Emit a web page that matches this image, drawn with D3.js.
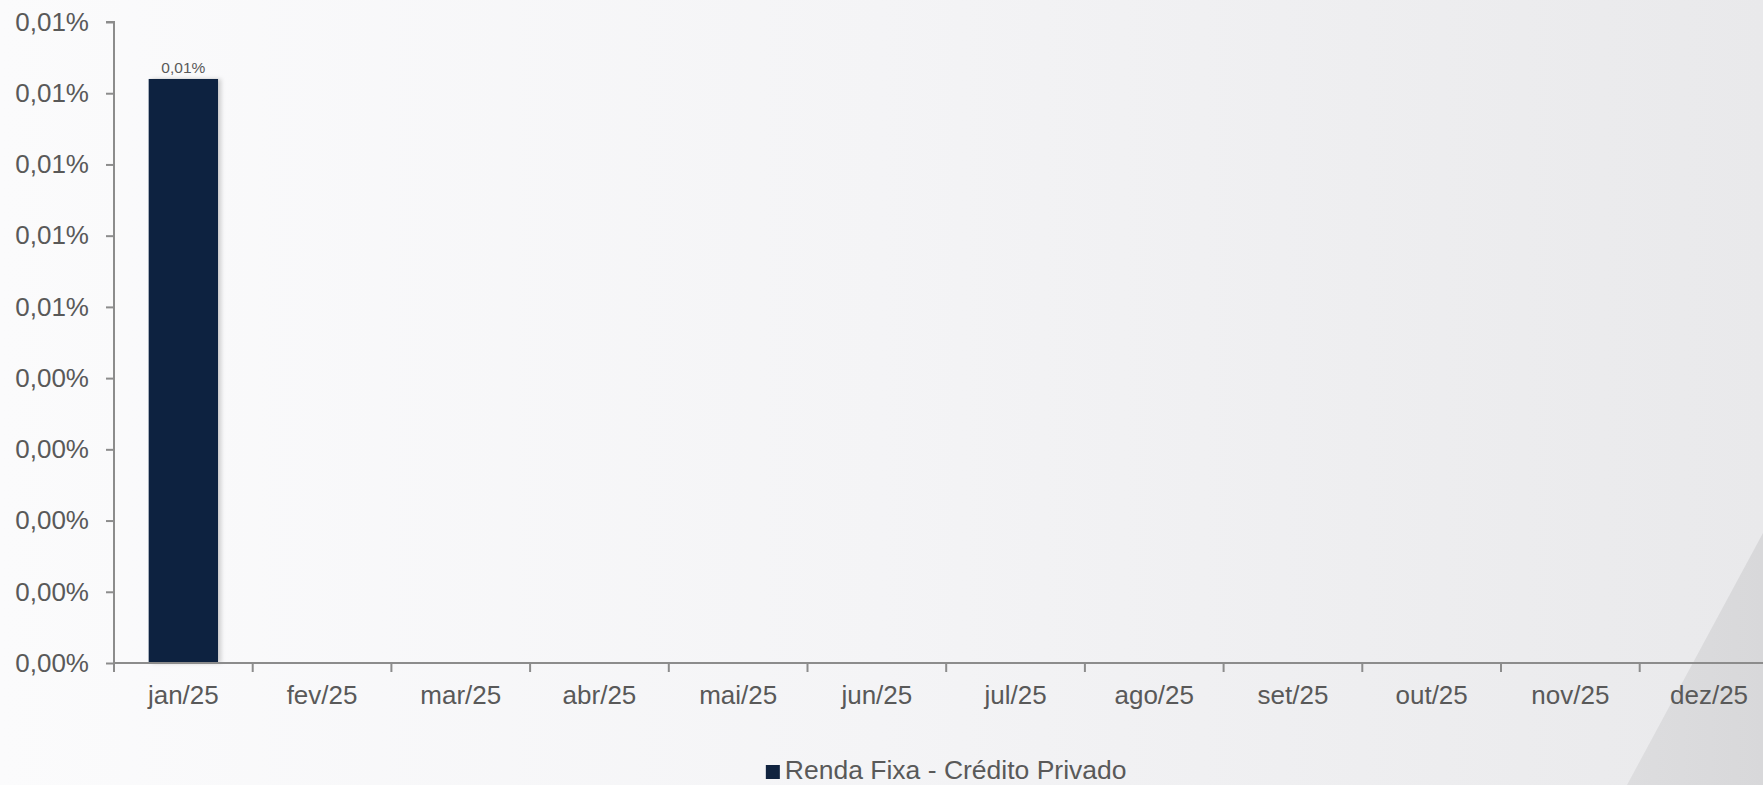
<!DOCTYPE html>
<html>
<head>
<meta charset="utf-8">
<script src="https://cdn.jsdelivr.net/npm/d3@7"></script>
<style>
  html, body { margin: 0; padding: 0; overflow: hidden; }
  svg { display: block; font-family: "Liberation Sans", Arial, sans-serif; }
</style>
</head>
<body>
<svg id="chart" width="1763" height="785"></svg>
<script>
// ---- data ----
const categories = ["jan/25","fev/25","mar/25","abr/25","mai/25","jun/25","jul/25","ago/25","set/25","out/25","nov/25","dez/25"];
const seriesName = "Renda Fixa - Crédito Privado";
const seriesValues = [0.0082, null, null, null, null, null, null, null, null, null, null, null]; // percent units
const barLabels = ["0,01%"];
const yTicks = [0, 0.001, 0.002, 0.003, 0.004, 0.005, 0.006, 0.007, 0.008, 0.009];
const yTickLabels = ["0,00%","0,00%","0,00%","0,00%","0,00%","0,01%","0,01%","0,01%","0,01%","0,01%"];

// ---- layout ----
const W = 1763, H = 785;
const plotLeft = 114, plotTop = 22, plotBottom = 663;
const step = 138.7;
const textColor = "#595959";
const axisColor = "#8c8c8c";
const barColor = "#10233f";

const svg = d3.select("#chart");
const defs = svg.append("defs");

const bg = defs.append("linearGradient").attr("id", "bg").attr("x1", 0).attr("x2", 1).attr("y1", 0).attr("y2", 0);
bg.append("stop").attr("offset", "0%").attr("stop-color", "#fbfbfc");
bg.append("stop").attr("offset", "50%").attr("stop-color", "#f4f4f6");
bg.append("stop").attr("offset", "100%").attr("stop-color", "#e9e9eb");

const dg = defs.append("linearGradient").attr("id", "diag").attr("x1", 0).attr("x2", 1).attr("y1", 0).attr("y2", 0);
dg.append("stop").attr("offset", "0%").attr("stop-color", "#dddddf");
dg.append("stop").attr("offset", "100%").attr("stop-color", "#d8d8da");

const sh = defs.append("filter").attr("id", "shadow").attr("x", "-20%").attr("y", "-5%").attr("width", "150%").attr("height", "110%");
sh.append("feDropShadow").attr("dx", 3).attr("dy", 0).attr("stdDeviation", 2).attr("flood-color", "#000").attr("flood-opacity", 0.18);

svg.append("rect").attr("width", W).attr("height", H).attr("fill", "url(#bg)");
svg.append("polygon").attr("points", "1763,533 1627,785 1763,785").attr("fill", "url(#diag)");

// ---- scales ----
const x = d3.scaleBand().domain(categories).range([plotLeft, plotLeft + step * categories.length]).paddingInner(0.5).paddingOuter(0.25);
const y = d3.scaleLinear().domain([0, 0.009]).range([plotBottom, plotTop]);

// ---- y axis ----
const yAxis = d3.axisLeft(y).tickValues(yTicks).tickFormat((d, i) => yTickLabels[i]).tickSize(8).tickPadding(17);
const gy = svg.append("g").attr("transform", `translate(${plotLeft},0)`).call(yAxis);
gy.select(".domain").attr("stroke", axisColor).attr("stroke-width", 2).attr("d", `M-8,${plotTop}H0V${plotBottom}`);
gy.selectAll(".tick line").attr("stroke", axisColor).attr("stroke-width", 2);
gy.selectAll(".tick text").attr("fill", textColor).style("font-size", "26px").style("font-family", "'Liberation Sans', Arial, sans-serif");

// ---- bars ----
const data = categories.map((c, i) => ({ c, v: seriesValues[i], label: barLabels[i] }));
svg.append("g").selectAll("rect").data(data.filter(d => d.v != null)).join("rect")
  .attr("x", d => x(d.c)).attr("width", x.bandwidth())
  .attr("y", d => y(d.v)).attr("height", d => y(0) - y(d.v))
  .attr("fill", barColor).attr("filter", "url(#shadow)");

svg.append("g").selectAll("text").data(data.filter(d => d.v != null)).join("text")
  .attr("x", d => x(d.c) + x.bandwidth() / 2).attr("y", d => y(d.v) - 6)
  .attr("text-anchor", "middle").attr("fill", textColor).style("font-size", "15.5px")
  .text(d => d.label);

// ---- x axis ----
const gx = svg.append("g").attr("transform", `translate(0,${plotBottom})`);
gx.append("line").attr("x1", plotLeft).attr("x2", W).attr("y1", 0).attr("y2", 0).attr("stroke", axisColor).attr("stroke-width", 2);
const boundaries = categories.map(c => x(c) - x.step() * 0.25);
gx.selectAll("line.t").data(boundaries).join("line").attr("class", "t")
  .attr("x1", d => d).attr("x2", d => d).attr("y1", 0).attr("y2", 9)
  .attr("stroke", axisColor).attr("stroke-width", 2);
gx.selectAll("text").data(categories).join("text")
  .attr("x", d => x(d) + x.bandwidth() / 2).attr("y", 41)
  .attr("text-anchor", "middle").attr("fill", textColor).style("font-size", "26px")
  .text(d => d);

// ---- legend ----
const plotCenter = (plotLeft + plotLeft + step * categories.length) / 2;
const lg = svg.append("g");
const lt = lg.append("text").attr("y", 779).attr("fill", textColor).style("font-size", "26.5px").text(seriesName);
const tw = lt.node().getComputedTextLength();
const sq = 14, gap = 5;
const total = sq + gap + tw;
const lx = plotCenter - total / 2;
lg.append("rect").attr("x", lx).attr("y", 765).attr("width", sq).attr("height", sq).attr("fill", barColor);
lt.attr("x", lx + sq + gap);
</script>
</body>
</html>
